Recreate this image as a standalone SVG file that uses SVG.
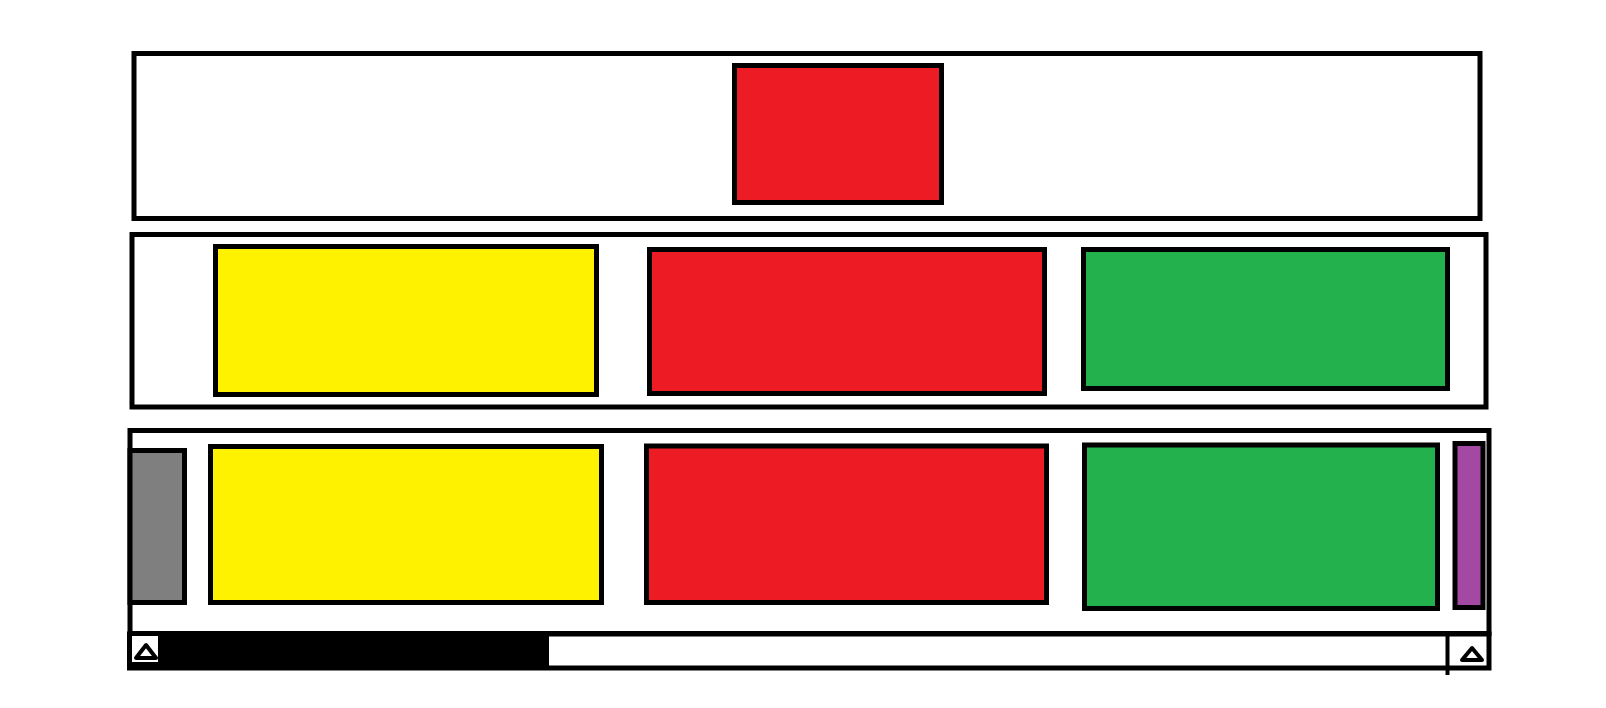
<svg xmlns="http://www.w3.org/2000/svg" width="1606" height="708" viewBox="0 0 1606 708">
<style>
.b{stroke:#000;stroke-width:5;}
.w{fill:#fff;}
.r{fill:#ED1C24;}
.y{fill:#FFF200;}
.g{fill:#22B14C;}
.p{fill:#A349A4;}
.gr{fill:#7F7F7F;}
.tri{fill:#fff;stroke:#000;stroke-width:4;stroke-linejoin:round;}
</style>
<rect width="1606" height="708" fill="#fff"/>
<g id="top-panel">
<rect class="b w" x="134" y="53.5" width="1346" height="165"/>
<rect class="b r" x="734.5" y="65.5" width="207" height="137"/>
</g>
<g id="middle-panel">
<rect class="b w" x="132" y="234.5" width="1354" height="172.5"/>
<rect class="b y" x="215.5" y="246.5" width="381" height="148"/>
<rect class="b r" x="649.5" y="249.5" width="395" height="144"/>
<rect class="b g" x="1083.5" y="249.5" width="364" height="139"/>
</g>
<g id="bottom-panel">
<rect class="b w" x="130" y="430.5" width="1359" height="203"/>
<rect class="b gr" x="130" y="450.5" width="54.5" height="152"/>
<rect class="b y" x="210.5" y="446.5" width="391" height="156"/>
<rect class="b r" x="646.5" y="446" width="400" height="156.5"/>
<rect class="b g" x="1084.5" y="445" width="353" height="163.5"/>
<rect class="b p" x="1455" y="443.5" width="28" height="164"/>
</g>
<g id="scrollbar">
<rect class="b w" x="129.5" y="634" width="1359.5" height="34"/>
<rect x="131" y="636" width="418" height="32" fill="#000"/>
<rect class="w" x="132" y="636" width="26" height="26"/>
<polygon class="tri" points="146,645 136,658 156,658"/>
<polygon class="tri" points="1472,648 1462,660 1482,660"/>
</g>
<g id="connectors">
<line x1="1447.5" y1="636" x2="1447.5" y2="675" stroke="#000" stroke-width="4"/>
</g>
</svg>
